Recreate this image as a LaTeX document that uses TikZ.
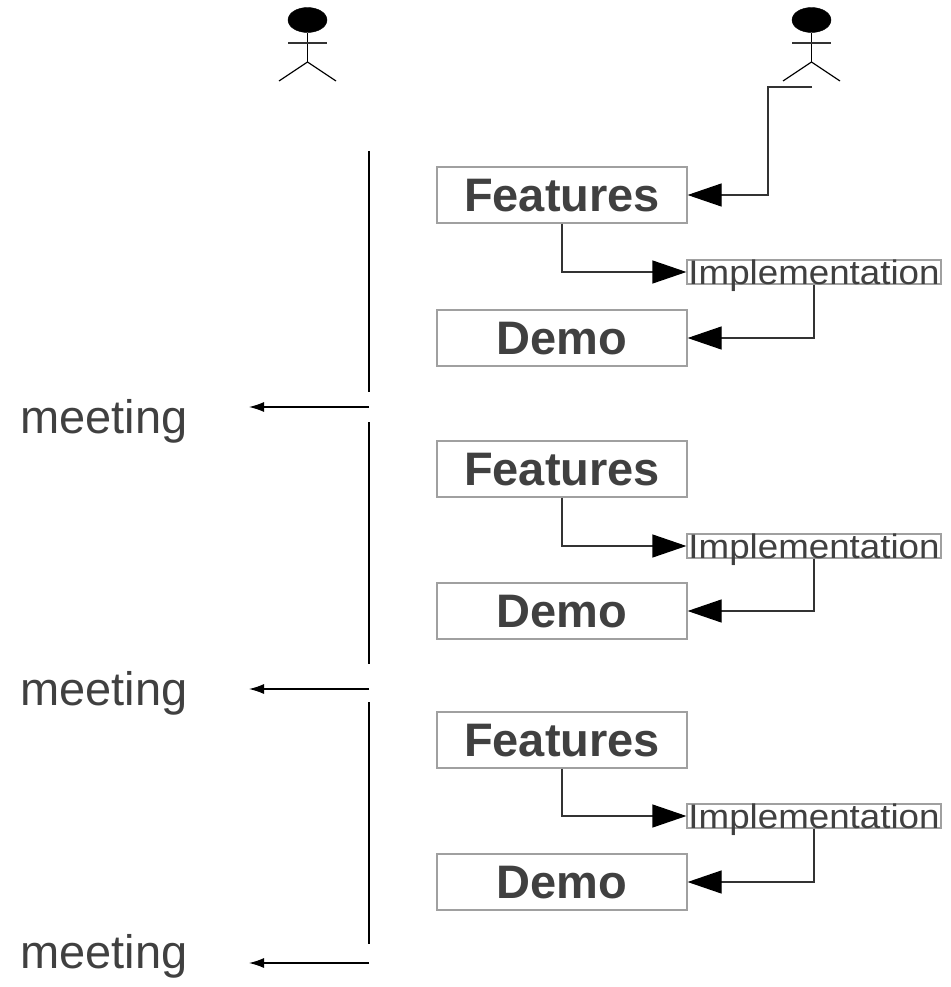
\documentclass[tikz,border=0pt]{standalone}
\usepackage{fontspec}
\setmainfont{Liberation Sans}
\usetikzlibrary{arrows.meta,shapes.geometric}
\definecolor{txt}{HTML}{404040}
\definecolor{boxline}{HTML}{A0A0A0}
\definecolor{conn}{HTML}{333333}
\tikzset{
  bigbox/.style={draw=boxline, line width=1.2pt, minimum width=250pt, minimum height=56pt,
    inner sep=0pt, text=txt, font=\fontsize{47}{47}\selectfont\bfseries,
    text height=33.6pt, text depth=0pt},
  implbox/.style={draw=boxline, line width=1.2pt, minimum width=254pt, minimum height=24pt,
    inner sep=0pt, text=txt, font=\fontsize{34}{34}\selectfont,
    text height=24pt, text depth=0pt},
  conline/.style={draw=conn, line width=1.2pt, -{Triangle[length=34pt,width=23pt,color=black]}},
  meetline/.style={draw=black, line width=1.2pt, -{Latex[length=15pt,width=10pt]}},
  timeline/.style={draw=black, line width=1.2pt},
  meettext/.style={inner sep=0pt, anchor=base west, text=txt, font=\fontsize{47}{47}\selectfont},
  head/.style={ellipse, fill=black, draw=black, minimum width=39pt, minimum height=25pt, inner sep=0pt},
  limb/.style={draw=black, line width=1.2pt}
}
\begin{document}
\begin{tikzpicture}[x=1pt,y=-1pt]
\useasboundingbox (0,0) rectangle (950,987);
% stick figures
\node[head] (u1) at (307.5,20) {};
\draw[limb] (u1.south) -- (307.5,62) coordinate (u1hip);
\draw[limb, draw=conn] (288,43) -- (327,43);
\draw[limb] (u1hip) -- (279,81);
\draw[limb] (u1hip) -- (336,81);
\node[head] (u2) at (811.5,20) {};
\draw[limb] (u2.south) -- (811.5,62) coordinate (u2hip);
\draw[limb, draw=conn] (792,43) -- (831,43);
\draw[limb] (u2hip) -- (783,81);
\draw[limb] (u2hip) -- (840,81);
\coordinate (u2foot) at (812,87);
% timeline
\draw[timeline] (369,151) coordinate (t1a) -- (369,392) coordinate (t1b);
\draw[timeline] (369,422) coordinate (t2a) -- (369,664) coordinate (t2b);
\draw[timeline] (369,702) coordinate (t3a) -- (369,944) coordinate (t3b);
% meetings
\coordinate (m1) at (369,407); \coordinate (m1e) at (249,407);
\coordinate (m2) at (369,689); \coordinate (m2e) at (249,689);
\coordinate (m3) at (369,963); \coordinate (m3e) at (249,963);
\draw[meetline] (m1) -- (m1e);
\draw[meetline] (m2) -- (m2e);
\draw[meetline] (m3) -- (m3e);
\node[meettext] (mt1) at (20,433) {meeting};
\node[meettext] (mt2) at (20,705) {meeting};
\node[meettext] (mt3) at (20,968) {meeting};
% blocks
\node[bigbox] (F1) at (562,195) {Features};
\node[implbox] (I1) at (814,272) {\scalebox{1.08}[1]{Implementation}};
\node[bigbox] (D1) at (562,338) {Demo};
\node[bigbox] (F2) at (562,469) {Features};
\node[implbox] (I2) at (814,546) {\scalebox{1.08}[1]{Implementation}};
\node[bigbox] (D2) at (562,611) {Demo};
\node[bigbox] (F3) at (562,740) {Features};
\node[implbox] (I3) at (814,816) {\scalebox{1.08}[1]{Implementation}};
\node[bigbox] (D3) at (562,882) {Demo};
% connectors
\draw[conline] (u2foot) -- ++(-44,0) |- (F1.east);
\draw[conline] (F1.south) |- (I1.west);
\draw[conline] (I1.south) |- (D1.east);
\draw[conline] (F2.south) |- (I2.west);
\draw[conline] (I2.south) |- (D2.east);
\draw[conline] (F3.south) |- (I3.west);
\draw[conline] (I3.south) |- (D3.east);
\end{tikzpicture}
\end{document}
